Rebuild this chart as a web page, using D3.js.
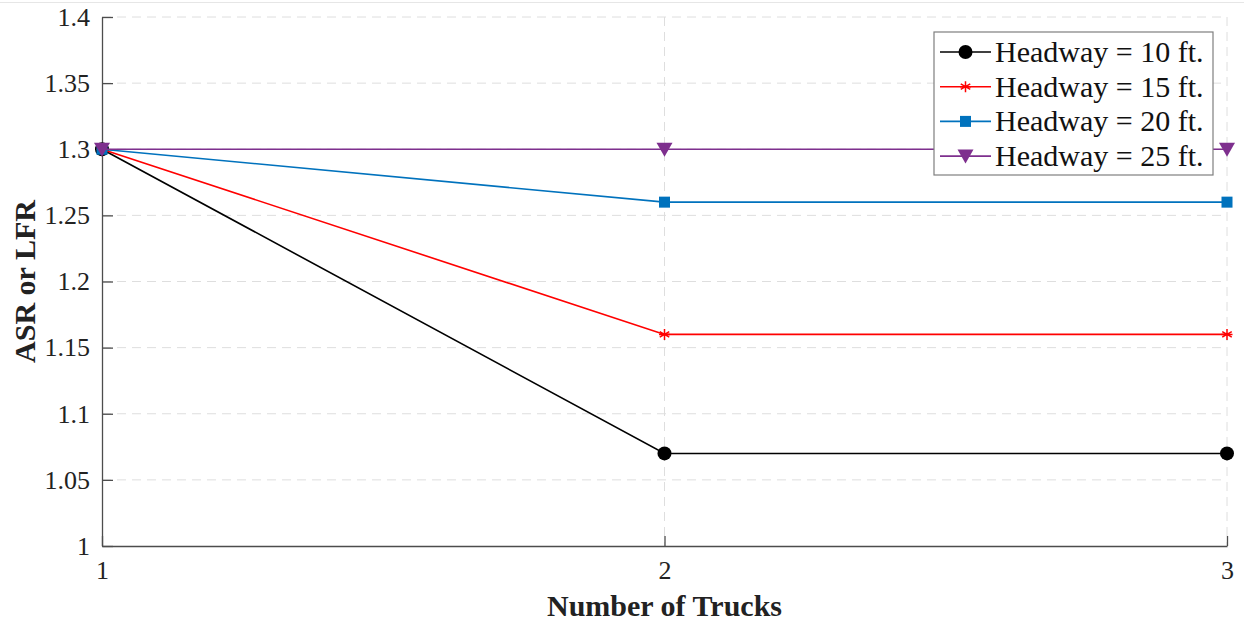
<!DOCTYPE html>
<html>
<head>
<meta charset="utf-8">
<script src="https://cdn.jsdelivr.net/npm/d3@7"></script>
<style>
  body { margin: 0; background: #fff; }
  svg { display: block; font-family: "Liberation Serif", "Times New Roman", serif; }
</style>
</head>
<body>
<svg id="chart"></svg>
<script>
const trucks = [1, 2, 3];
const headway10 = [1.3, 1.07, 1.07];
const headway15 = [1.3, 1.16, 1.16];
const headway20 = [1.3, 1.26, 1.26];
const headway25 = [1.3, 1.3, 1.3];
const seriesNames = ["Headway = 10 ft.", "Headway = 15 ft.", "Headway = 20 ft.", "Headway = 25 ft."];
const yTicks = [1, 1.05, 1.1, 1.15, 1.2, 1.25, 1.3, 1.35, 1.4];

const W = 1244, H = 625;
const margin = {top: 17, right: 17, bottom: 79, left: 102};
const iw = W - margin.left - margin.right;
const ih = H - margin.top - margin.bottom;

const series = [
  {name: seriesNames[0], values: headway10, color: "#000000", marker: "circle"},
  {name: seriesNames[1], values: headway15, color: "#ff0000", marker: "asterisk"},
  {name: seriesNames[2], values: headway20, color: "#0072bd", marker: "square"},
  {name: seriesNames[3], values: headway25, color: "#7e2f8e", marker: "triangle"}
];

const svg = d3.select("#chart").attr("width", W).attr("height", H);

// faint frame line at top like the screenshot
svg.append("line").attr("x1", 0).attr("x2", W).attr("y1", 2.5).attr("y2", 2.5)
  .attr("stroke", "#e6e6e6").attr("stroke-width", 1);

const chart = svg.append("g").attr("transform", `translate(${margin.left},${margin.top})`);

const x = d3.scaleLinear().domain([1, 3]).range([0, iw]);
const y = d3.scaleLinear().domain([1, 1.4]).range([ih, 0]);

// grid
chart.append("g").selectAll("line").data(yTicks.slice(1)).join("line")
  .attr("x1", 0).attr("x2", iw)
  .attr("y1", d => y(d)).attr("y2", d => y(d))
  .attr("stroke", "#dedede").attr("stroke-dasharray", "9,6").attr("stroke-width", 1);
chart.append("g").selectAll("line").data(trucks.slice(1)).join("line")
  .attr("x1", d => x(d)).attr("x2", d => x(d))
  .attr("y1", 0).attr("y2", ih)
  .attr("stroke", "#dedede").attr("stroke-dasharray", "9,6").attr("stroke-width", 1);

// axes with inward ticks
const xAxis = d3.axisBottom(x).tickValues(trucks).tickFormat(d3.format("d")).tickSizeInner(-10).tickSizeOuter(0).tickPadding(15);
const yAxis = d3.axisLeft(y).tickValues(yTicks).tickFormat(d => String(+d.toFixed(2))).tickSizeInner(-11).tickSizeOuter(0).tickPadding(12);

const gx = chart.append("g").attr("transform", `translate(0,${ih})`).call(xAxis);
const gy = chart.append("g").call(yAxis);
[gx, gy].forEach(g => {
  g.select(".domain").attr("stroke", "#4d4d4d").attr("stroke-width", 1.3);
  g.selectAll(".tick line").attr("stroke", "#4d4d4d").attr("stroke-width", 1.3);
  g.selectAll(".tick text").attr("fill", "#222").style("font-size", "26px").style("font-family", "Liberation Serif");
});

// axis labels
svg.append("text")
  .attr("x", margin.left + iw / 2).attr("y", 616)
  .attr("text-anchor", "middle")
  .style("font-size", "30px").style("font-weight", "bold").attr("fill", "#222")
  .text("Number of Trucks");
svg.append("text")
  .attr("transform", `translate(35,${margin.top + ih / 2}) rotate(-90)`)
  .attr("text-anchor", "middle")
  .style("font-size", "30px").style("font-weight", "bold").attr("fill", "#222")
  .text("ASR or LFR");

function drawMarker(g, type, color, cx, cy) {
  if (type === "circle") {
    g.append("circle").attr("cx", cx).attr("cy", cy).attr("r", 7).attr("fill", color);
  } else if (type === "square") {
    g.append("rect").attr("x", cx - 5.5).attr("y", cy - 5.5).attr("width", 11).attr("height", 11).attr("fill", color);
  } else if (type === "triangle") {
    g.append("path").attr("d", `M${cx - 8},${cy - 6.5} L${cx + 8},${cy - 6.5} L${cx},${cy + 7.5} Z`).attr("fill", color);
  } else if (type === "asterisk") {
    const r = 5.5;
    const p = [0, 60, 120].map(a => {
      const t = a * Math.PI / 180;
      return `M${cx - r * Math.sin(t)},${cy - r * Math.cos(t)} L${cx + r * Math.sin(t)},${cy + r * Math.cos(t)}`;
    }).join(" ") + ` M${cx - r},${cy} L${cx + r},${cy}`;
    g.append("path").attr("d", p).attr("stroke", color).attr("stroke-width", 1.5).attr("fill", "none");
  }
}

const line = d3.line().x((d, i) => x(trucks[i])).y(d => y(d));

series.forEach(s => {
  const g = chart.append("g");
  g.append("path").attr("d", line(s.values)).attr("fill", "none")
    .attr("stroke", s.color).attr("stroke-width", 1.6);
  s.values.forEach((v, i) => drawMarker(g, s.marker, s.color, x(trucks[i]), y(v)));
});

// legend
const lg = svg.append("g").attr("transform", "translate(934,32)");
lg.append("rect").attr("width", 279).attr("height", 143)
  .attr("fill", "#fff").attr("stroke", "#7f7f7f").attr("stroke-width", 1.2);
series.forEach((s, i) => {
  const cy = 20 + i * 34.7;
  lg.append("line").attr("x1", 6).attr("x2", 57).attr("y1", cy).attr("y2", cy)
    .attr("stroke", s.color).attr("stroke-width", 1.6);
  drawMarker(lg, s.marker, s.color, 31.5, cy);
  lg.append("text").attr("x", 61).attr("y", cy + 10)
    .style("font-size", "30px").attr("fill", "#111").text(s.name);
});
</script>
</body>
</html>
